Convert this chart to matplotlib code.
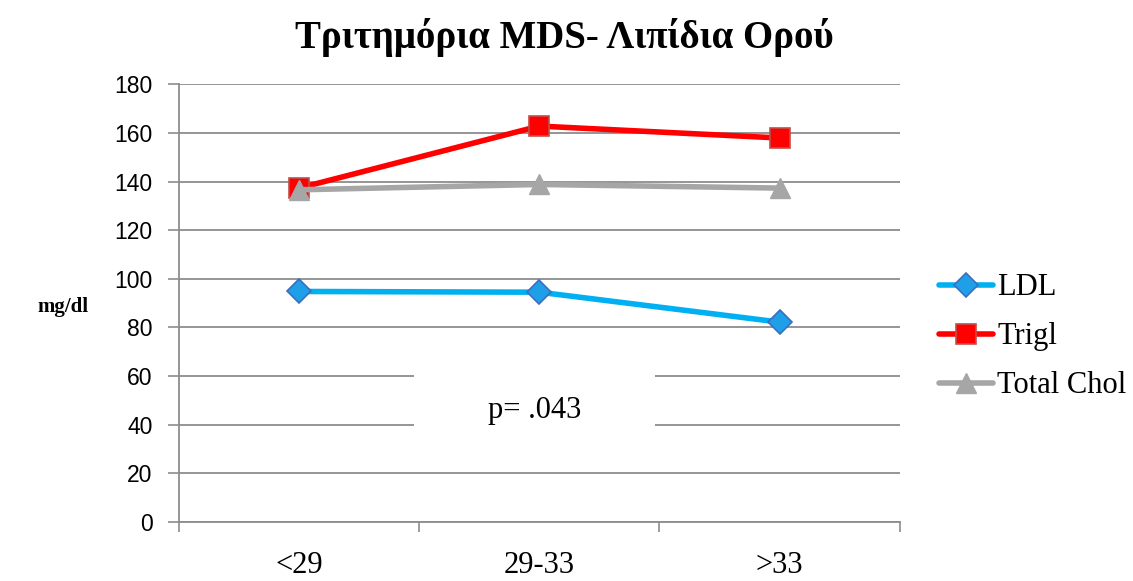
import matplotlib.pyplot as plt
from matplotlib.patches import Rectangle

categories = ["<29", "29-33", ">33"]
ldl = [94.8, 94.5, 82.2]
trigl = [137.3, 162.8, 157.9]
total_chol = [136.6, 138.8, 137.3]
series_names = ["LDL", "Trigl", "Total Chol"]
title = "Τριτημόρια MDS- Λιπίδια Ορού"
y_label = "mg/dl"
p_text = "p= .043"

SERIF = ["Liberation Serif", "DejaVu Serif"]
SANS = ["Liberation Sans", "DejaVu Sans"]
GRID = "#8c8c8c"

fig = plt.figure(figsize=(11.33, 5.81), dpi=100)
ax = fig.add_axes([0.158, 0.1015, 0.636, 0.7535])

x = list(range(len(categories)))
ax.plot(x, ldl, color="#00B0F0", lw=4, marker="D", ms=12.5, mfc="#1E9FE8", mec="#3A6FC0", mew=1.2,
        label=series_names[0], zorder=3, solid_capstyle="round")
ax.plot(x, trigl, color="#FF0000", lw=4, marker="s", ms=14.5, mfc="#FF0000", mec="#C0504D", mew=1.2,
        label=series_names[1], zorder=4, solid_capstyle="round")
ax.plot(x, total_chol, color="#A6A6A6", lw=4, marker="^", ms=14.5, mfc="#A6A6A6", mec="#A6A6A6",
        label=series_names[2], zorder=5, solid_capstyle="round")

ax.set_xlim(-0.5, 2.5)
ax.set_ylim(0, 180)
ax.set_yticks(range(0, 181, 20))
ax.set_xticks(x)
ax.set_xticklabels(categories, fontfamily=SERIF, fontsize=22)
ax.set_xticks([-0.5, 0.5, 1.5, 2.5], minor=True)
ax.tick_params(axis="x", which="major", length=0, pad=21)
ax.tick_params(axis="x", which="minor", length=7, color=GRID, width=1.2)
ax.tick_params(axis="y", length=8, color=GRID, width=1.2, labelsize=16.5, pad=11)
for lab in ax.get_yticklabels():
    lab.set_fontfamily(SANS)

ax.grid(axis="y", color=GRID, lw=1.3)
ax.set_axisbelow(True)
for s in ["top", "right"]:
    ax.spines[s].set_visible(False)
for s in ["left", "bottom"]:
    ax.spines[s].set_color(GRID)
    ax.spines[s].set_linewidth(1.3)

# white patch behind the p-value text
ax.add_patch(Rectangle((0.48, 39.5), 1.0, 21, facecolor="white", edgecolor="none", zorder=2))
ax.text(0.98, 46, p_text, fontfamily=SERIF, fontsize=22, ha="center", va="center", zorder=6)

fig.text(0.056, 0.472, y_label, fontfamily=SERIF, fontsize=15, fontweight="bold", ha="center", va="center")
fig.text(0.498, 0.935, title, fontfamily=SERIF, fontsize=28, fontweight="bold", ha="center", va="center")

leg = ax.legend(loc="center left", bbox_to_anchor=(1.055, 0.423), frameon=False, prop={"family": SERIF, "size": 22},
                handlelength=1.75, handletextpad=0.15, labelspacing=0.65, borderaxespad=0, borderpad=0)

fig.savefig("out.png", dpi=100)
